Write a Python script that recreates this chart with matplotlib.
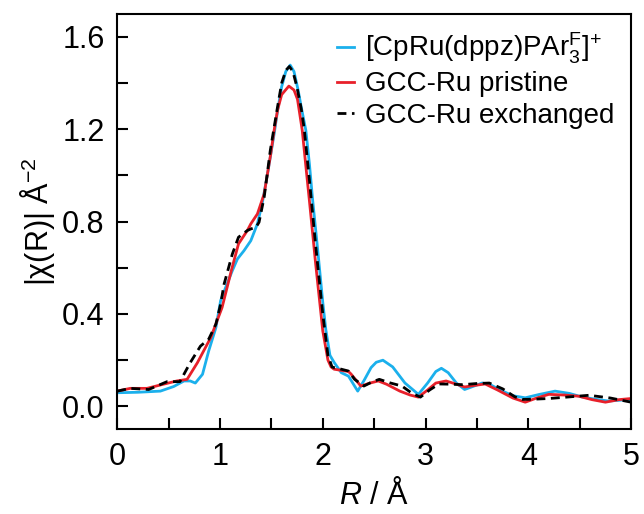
# EXAFS |chi(R)| comparison

import matplotlib.pyplot as plt

plt.rcParams['font.family'] = ['Liberation Sans', 'DejaVu Sans']
plt.rcParams['mathtext.fontset'] = 'custom'
plt.rcParams['mathtext.rm'] = 'Liberation Sans'
plt.rcParams['mathtext.it'] = 'Liberation Sans:italic'

# Values
r_blue = [0.0, 0.20, 0.42, 0.55, 0.65, 0.71, 0.76, 0.83, 0.89, 0.96, 1.006, 1.06, 1.12, 1.17,
          1.234, 1.30, 1.364, 1.41, 1.46, 1.527, 1.56, 1.60, 1.64, 1.683, 1.72, 1.76, 1.79,
          1.835, 1.87, 1.90, 1.95, 2.00, 2.03, 2.07, 2.11, 2.18, 2.25, 2.34, 2.40, 2.47,
          2.52, 2.585, 2.68, 2.80, 2.93, 3.02, 3.10, 3.154, 3.22, 3.30, 3.38, 3.46, 3.55,
          3.62, 3.75, 3.85, 3.97, 4.10, 4.26, 4.40, 4.52, 4.65, 4.78, 5.0]
chi_blue = [0.058, 0.060, 0.065, 0.085, 0.109, 0.109, 0.100, 0.138, 0.239, 0.340, 0.457, 0.52, 0.587, 0.638,
            0.674, 0.717, 0.790, 0.877, 1.00, 1.18, 1.28, 1.384, 1.45, 1.478, 1.45, 1.37, 1.297,
            1.196, 1.05, 0.90, 0.68, 0.45, 0.33, 0.22, 0.19, 0.145, 0.13, 0.065, 0.11, 0.167,
            0.19, 0.199, 0.17, 0.10, 0.051, 0.10, 0.15, 0.164, 0.145, 0.10, 0.072, 0.085, 0.10,
            0.095, 0.065, 0.045, 0.036, 0.05, 0.065, 0.055, 0.04, 0.03, 0.022, 0.029]

r_red = [0.0, 0.127, 0.29, 0.45, 0.58, 0.68, 0.78, 0.91, 1.02, 1.11, 1.18, 1.266, 1.30, 1.364,
         1.43, 1.494, 1.527, 1.56, 1.60, 1.67, 1.72, 1.754, 1.80, 1.84, 1.87, 1.93, 2.00,
         2.05, 2.08, 2.11, 2.18, 2.25, 2.275, 2.37, 2.46, 2.54, 2.62, 2.75, 2.85, 2.93, 3.02,
         3.10, 3.20, 3.30, 3.38, 3.48, 3.58, 3.70, 3.85, 3.97, 4.08, 4.20, 4.35, 4.49, 4.62,
         4.75, 4.88, 5.0]
chi_red = [0.065, 0.077, 0.077, 0.095, 0.109, 0.116, 0.188, 0.297, 0.427, 0.587, 0.703, 0.761, 0.790, 0.833,
           0.920, 1.094, 1.196, 1.283, 1.35, 1.387, 1.37, 1.33, 1.196, 1.02, 0.89, 0.62, 0.326,
           0.20, 0.17, 0.16, 0.155, 0.15, 0.139, 0.087, 0.10, 0.109, 0.095, 0.065, 0.048, 0.039, 0.07,
           0.10, 0.109, 0.095, 0.083, 0.09, 0.096, 0.07, 0.035, 0.017, 0.035, 0.051, 0.048, 0.043, 0.028,
           0.017, 0.028, 0.033]

r_black = [0.0, 0.127, 0.306, 0.485, 0.61, 0.71, 0.81, 0.89, 0.96, 1.006, 1.04, 1.12, 1.18,
           1.266, 1.30, 1.35, 1.38, 1.43, 1.49, 1.56, 1.60, 1.64, 1.675, 1.71, 1.75, 1.79,
           1.82, 1.87, 1.93, 2.00, 2.05, 2.09, 2.11, 2.18, 2.25, 2.31, 2.40, 2.48, 2.55, 2.66,
           2.77, 2.87, 2.95, 3.04, 3.13, 3.25, 3.36, 3.50, 3.62, 3.75, 3.87, 3.94, 4.05, 4.20,
           4.40, 4.59, 4.80, 5.0]
chi_black = [0.065, 0.077, 0.072, 0.106, 0.106, 0.188, 0.260, 0.290, 0.355, 0.442, 0.529, 0.659, 0.732,
             0.761, 0.768, 0.775, 0.797, 0.906, 1.11, 1.297, 1.40, 1.455, 1.472, 1.45, 1.38, 1.29,
             1.20, 0.98, 0.70, 0.40, 0.22, 0.17, 0.167, 0.16, 0.152, 0.116, 0.087, 0.105, 0.116, 0.10,
             0.087, 0.055, 0.039, 0.07, 0.096, 0.095, 0.093, 0.098, 0.100, 0.075, 0.04, 0.029, 0.03, 0.033,
             0.04, 0.047, 0.035, 0.017]

labels = [r'[CpRu(dppz)PAr$^{\mathregular{F}}_{\mathregular{3}}$]$^{\mathregular{+}}$',
          'GCC-Ru pristine', 'GCC-Ru exchanged']

fig = plt.figure(figsize=(6.44, 5.14), dpi=100)
ax = fig.add_axes([0.182, 0.165, 0.798, 0.808])

ax.plot(r_blue, chi_blue, color='#1BB0EC', lw=2, label=labels[0])
ax.plot(r_red, chi_red, color='#E8202A', lw=2, label=labels[1])
ax.plot(r_black, chi_black, color='black', lw=2, ls=(0, (3.2, 2.0)), label=labels[2])

ax.set_xlim(0, 5)
ax.set_ylim(-0.1, 1.7)
ax.set_xticks([0, 1, 2, 3, 4, 5])
ax.set_xticks([0.5, 1.5, 2.5, 3.5, 4.5], minor=True)
ax.set_yticks([0.0, 0.4, 0.8, 1.2, 1.6])
ax.set_yticklabels(['0.0', '0.4', '0.8', '1.2', '1.6'])
ax.set_yticks([0.2, 0.6, 1.0, 1.4], minor=True)
ax.tick_params(which='both', direction='in', labelsize=22, width=1.5)
ax.tick_params(which='major', length=8, pad=9)
ax.tick_params(which='minor', length=8)
for s in ax.spines.values():
    s.set_linewidth(1.5)

ax.set_xlabel(r'$\it{R}$ / Å', fontsize=22, labelpad=5)
ax.set_ylabel('|χ(R)| Å$^{\mathregular{-2}}$', fontsize=22, labelpad=4)

ax.legend(loc='upper right', frameon=False, fontsize=20, handlelength=0.6,
          handletextpad=0.4, labelspacing=0.2, borderaxespad=0.2)

fig.savefig('out.png', dpi=100)
